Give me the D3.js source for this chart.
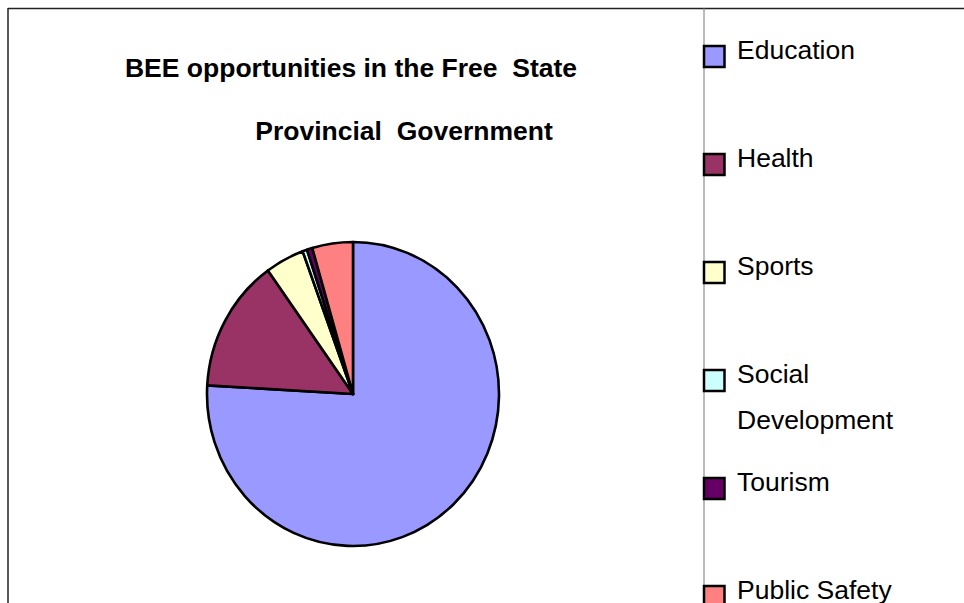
<!DOCTYPE html>
<html>
<head>
<meta charset="utf-8">
<script src="https://cdn.jsdelivr.net/npm/d3@7"></script>
<style>
  html, body { margin: 0; padding: 0; background: #fff; }
  svg { display: block; }
  text { font-family: "Liberation Sans", Arial, sans-serif; fill: #000; }
</style>
</head>
<body>
<svg id="chart" width="964" height="603"></svg>
<script>
// Shares of BEE opportunities by department (percent)
const categories = ["Education", "Health", "Sports", "Social Development", "Tourism", "Public Safety"];
const values = [75.9, 14.2, 4.3, 0.5, 0.6, 4.5];
const colors = ["#9999FF", "#993366", "#FFFFCC", "#CCFFFF", "#660066", "#FF8080"];
const legendLines = [["Education"], ["Health"], ["Sports"], ["Social", "Development"], ["Tourism"], ["Public Safety"]];
const titleLines = ["BEE opportunities in the Free\u00a0\u00a0State", "Provincial\u00a0\u00a0Government"];

const svg = d3.select("#chart");

// Outer frame (top and left edges) and legend separator
svg.append("line").attr("x1", 8).attr("y1", 8.5).attr("x2", 964).attr("y2", 8.5)
  .attr("stroke", "#222").attr("stroke-width", 1.5);
svg.append("line").attr("x1", 8).attr("y1", 8).attr("x2", 8).attr("y2", 603)
  .attr("stroke", "#222").attr("stroke-width", 1.5);
svg.append("line").attr("x1", 704).attr("y1", 8).attr("x2", 704).attr("y2", 603)
  .attr("stroke", "#777").attr("stroke-width", 1);

// Title
svg.append("text").attr("x", 351).attr("y", 77)
  .attr("text-anchor", "middle").attr("font-weight", "bold").attr("font-size", 26.5)
  .text(titleLines[0]);
svg.append("text").attr("x", 404).attr("y", 140)
  .attr("text-anchor", "middle").attr("font-weight", "bold").attr("font-size", 26.5)
  .text(titleLines[1]);

// Pie (slightly taller than wide), clockwise from 12 o'clock
const rx = 146, ry = 152;
const pie = d3.pie().sort(null).value(d => d)(values);
const arc = d3.arc().innerRadius(0).outerRadius(rx);
const color = d3.scaleOrdinal().domain(categories).range(colors);

const g = svg.append("g")
  .attr("transform", `translate(353,394) scale(1,${ry / rx})`);
g.selectAll("path")
  .data(pie)
  .join("path")
  .attr("d", arc)
  .attr("fill", (d, i) => color(categories[i]))
  .attr("stroke", "#000")
  .attr("stroke-width", 2.6)
  .attr("stroke-linejoin", "round")
  .attr("vector-effect", "non-scaling-stroke");

// Legend
const legendY = d3.scaleLinear().domain([0, 1]).range([45, 153]);
const legend = svg.append("g");
const items = legend.selectAll("g")
  .data(categories)
  .join("g")
  .attr("transform", (d, i) => `translate(0,${legendY(i)})`);
items.append("rect")
  .attr("x", 704).attr("y", 1).attr("width", 20.5).attr("height", 21)
  .attr("fill", d => color(d))
  .attr("stroke", "#000").attr("stroke-width", 2.5);
items.each(function (d, i) {
  const t = d3.select(this).append("text")
    .attr("x", 737).attr("y", 14).attr("font-size", 26.5);
  legendLines[i].forEach((line, j) => {
    t.append("tspan").attr("x", 737).attr("dy", j === 0 ? 0 : 46).text(line);
  });
});
</script>
</body>
</html>
